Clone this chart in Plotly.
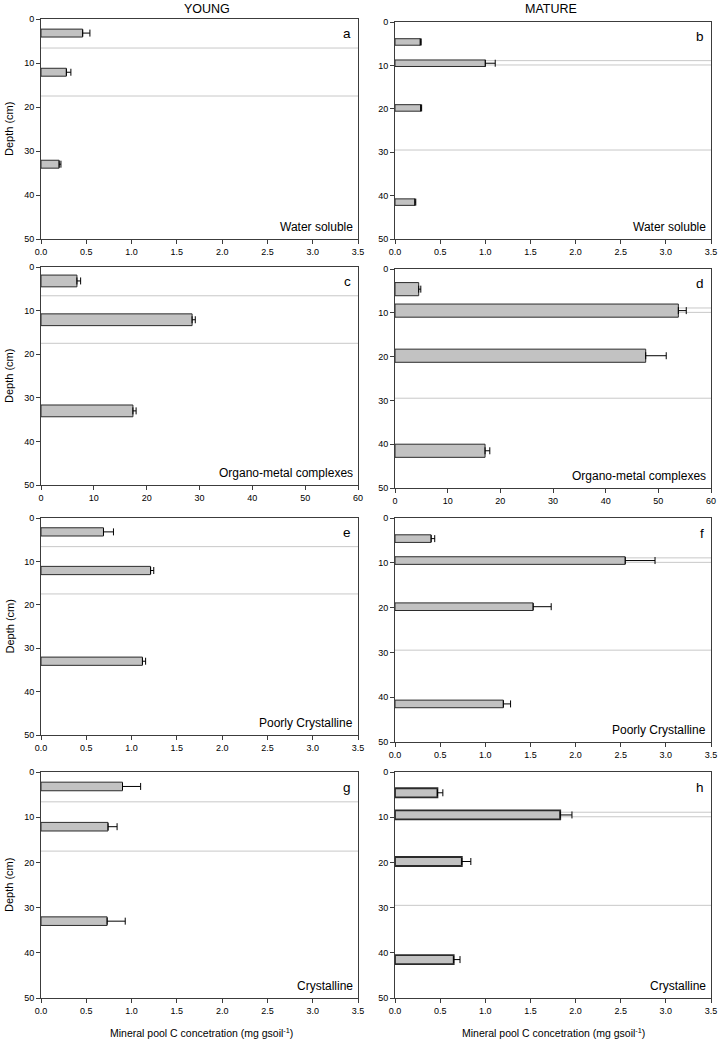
import plotly.graph_objects as go

# ---------------- data ----------------
young_depth = [3.2, 12.1, 33.0]
mature_depth = [4.6, 9.5, 19.8, 41.5]

young_horizons = [6.6, 17.5]
mature_horizons = [8.9, 9.9, 29.5]

ws_young = [0.46, 0.28, 0.20]
ws_young_err = [0.08, 0.05, 0.02]
ws_mature = [0.28, 1.00, 0.285, 0.22]
ws_mature_err = [0.01, 0.11, 0.01, 0.01]

om_young = [6.8, 28.6, 17.4]
om_young_err = [0.7, 0.6, 0.6]
om_mature = [4.5, 53.8, 47.6, 17.1]
om_mature_err = [0.4, 1.5, 3.9, 0.9]

pc_young = [0.69, 1.21, 1.12]
pc_young_err = [0.11, 0.035, 0.035]
pc_mature = [0.40, 2.55, 1.53, 1.20]
pc_mature_err = [0.04, 0.33, 0.20, 0.08]

cr_young = [0.90, 0.74, 0.73]
cr_young_err = [0.20, 0.10, 0.20]
cr_mature = [0.47, 1.83, 0.74, 0.65]
cr_mature_err = [0.06, 0.13, 0.10, 0.07]

pool_names = ["Water soluble", "Organo-metal complexes", "Poorly Crystalline", "Crystalline"]
panel_letters = ["a", "b", "c", "d", "e", "f", "g", "h"]
x_max = [3.5, 60, 3.5, 3.5]

# ---------------- layout geometry (pixels) ----------------
W, H = 725, 1042
left_x = (41, 358)
right_x = (395, 711)
left_rows = [(19, 239), (267, 485), (518, 735), (772, 998)]
right_rows = [(22, 239), (269, 488), (518, 742), (772, 998)]
bar_widths = [1.8, 1.5, 2.7, 3.0, 1.9, 1.7, 1.9, 2.0]

FONT = "Liberation Sans, Arial, sans-serif"
FILL = "#c2c2c2"
EDGE = "#2b2b2b"
FRAME = "#3c3c3c"

series = [
    (ws_young, ws_young_err, ws_mature, ws_mature_err),
    (om_young, om_young_err, om_mature, om_mature_err),
    (pc_young, pc_young_err, pc_mature, pc_mature_err),
    (cr_young, cr_young_err, cr_mature, cr_mature_err),
]

fig = go.Figure()
layout = dict(
    width=W, height=H,
    margin=dict(l=0, r=0, t=0, b=0),
    paper_bgcolor="white", plot_bgcolor="white",
    showlegend=False,
    font=dict(family=FONT, size=9, color="black"),
    annotations=[], shapes=[],
)

idx = 0
for row in range(4):
    yv, ye, mv, me = series[row]
    for col in range(2):
        idx += 1
        ax = "" if idx == 1 else str(idx)
        xname, yname = "x" + ax, "y" + ax
        depth = young_depth if col == 0 else mature_depth
        vals = yv if col == 0 else mv
        errs = ye if col == 0 else me
        horizons = young_horizons if col == 0 else mature_horizons
        xd = left_x if col == 0 else right_x
        top, bot = (left_rows if col == 0 else right_rows)[row]
        lw = 1.8 if idx == 8 else 1.0

        fig.add_trace(go.Bar(
            x=vals, y=depth, orientation="h",
            width=bar_widths[idx - 1],
            marker=dict(color=FILL, line=dict(color=EDGE, width=lw)),
            error_x=dict(type="data", symmetric=False, array=errs,
                         arrayminus=[0] * len(errs), color="black",
                         thickness=1, width=3.5),
            xaxis=xname, yaxis=yname,
        ))

        xm = x_max[row]
        if xm == 60:
            xt = dict(tickmode="linear", tick0=0, dtick=10, tickformat="d")
        else:
            xt = dict(tickmode="linear", tick0=0, dtick=0.5, tickformat=".1f")
        layout["xaxis" + ax] = dict(
            domain=[xd[0] / W, xd[1] / W], anchor=yname,
            range=[0, xm], showgrid=False, zeroline=False, automargin=False,
            showline=True, linecolor=FRAME, linewidth=1, mirror=True,
            ticks="outside", ticklen=4, tickcolor=FRAME,
            tickfont=dict(size=9), **xt,
        )
        layout["yaxis" + ax] = dict(
            domain=[1 - bot / H, 1 - top / H], anchor=xname,
            range=[50, 0], showgrid=False, zeroline=False, automargin=False,
            showline=True, linecolor=FRAME, linewidth=1, mirror=True,
            ticks="outside", ticklen=4, tickcolor=FRAME,
            tickmode="linear", tick0=0, dtick=10,
            tickfont=dict(size=9),
        )
        if col == 0:
            layout["annotations"].append(dict(
                text="Depth (cm)", xref="paper", yref="paper",
                x=9 / W, y=1 - (top + bot) / 2 / H, textangle=-90,
                xanchor="center", yanchor="middle", showarrow=False,
                font=dict(size=11)))

        for hz in horizons:
            layout["shapes"].append(dict(
                type="line", xref=xname + " domain", yref=yname,
                x0=0, x1=1, y0=hz, y1=hz, layer="below",
                line=dict(color="#c8c8c8", width=1),
            ))

        layout["annotations"].append(dict(
            text=panel_letters[idx - 1], xref=xname + " domain", yref=yname + " domain",
            x=0.985, y=0.975, xanchor="right", yanchor="top", showarrow=False,
            font=dict(size=13.5),
        ))
        layout["annotations"].append(dict(
            text=pool_names[row], xref=xname + " domain", yref=yname + " domain",
            x=0.99, y=0.012, xanchor="right", yanchor="bottom", showarrow=False,
            font=dict(size=12),
        ))

layout["annotations"].append(dict(
    text="YOUNG", xref="paper", yref="paper", x=207 / W, y=1 - 9 / H,
    xanchor="center", yanchor="middle", showarrow=False, font=dict(size=12.5)))
layout["annotations"].append(dict(
    text="MATURE", xref="paper", yref="paper", x=551 / W, y=1 - 9 / H,
    xanchor="center", yanchor="middle", showarrow=False, font=dict(size=12.5)))
for cx in (201, 553):
    layout["annotations"].append(dict(
        text="Mineral pool C concetration (mg gsoil<sup>-1</sup>)",
        xref="paper", yref="paper", x=cx / W, y=1 - 1032 / H,
        xanchor="center", yanchor="middle", showarrow=False, font=dict(size=10.5)))

fig.update_layout(**layout)
fig.write_html(
    "out.html",
    config={"displayModeBar": False},
    post_script="document.body.style.margin='0';document.body.style.overflow='hidden';",
)
